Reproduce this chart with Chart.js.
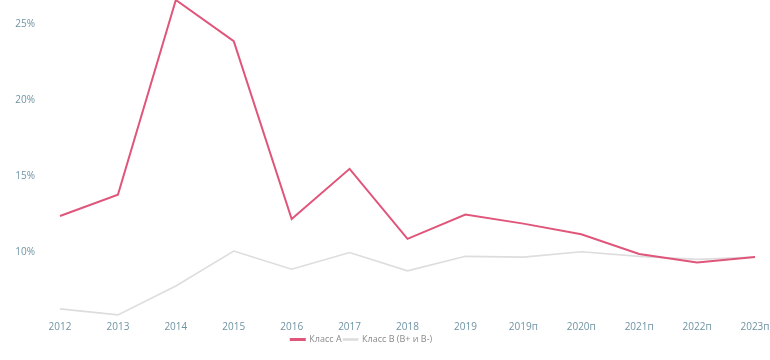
<!DOCTYPE html>
<html lang="ru">
<head>
    <meta charset="UTF-8">
    <title>Класс А / Класс В</title>
    <script src="https://cdn.jsdelivr.net/npm/chart.js"></script>
    <style>
        body {
            margin: 0;
            background: #ffffff;
        }

        #wrap {
            position: relative;
            width: 770px;
            height: 360px;
        }
    </style>
</head>
<body>
    <div id="wrap">
        <canvas id="chart"></canvas>
    </div>

    <script>
        // years along the x axis
        const years = ['2012', '2013', '2014', '2015', '2016', '2017', '2018', '2019',
            '2019п', '2020п', '2021п', '2022п', '2023п'];

        // vacancy, %
        const classA = [12.4, 13.8, 26.6, 23.9, 12.2, 15.5, 10.9, 12.5, 11.9, 11.2, 9.9, 9.35, 9.7];
        const classB = [6.3, 5.9, 7.8, 10.1, 8.9, 10.0, 8.8, 9.75, 9.7, 10.05, 9.75, 9.55, 9.7];

        const yTicks = [10, 15, 20, 25];

        const tickColor = '#6f93a3';
        const tickFont = { family: 'Open Sans', size: 10 };

        // legend sits a little left of the canvas centre in the original
        const legendShift = {
            id: 'legendShift',
            afterLayout(chart) {
                chart.legend.left -= 16;
                chart.legend.right -= 16;
            }
        };

        const ctx = document.getElementById('chart').getContext('2d');

        new Chart(ctx, {
            type: 'line',
            data: {
                labels: years,
                datasets: [{
                    label: 'Класс А',
                    data: classA,
                    borderColor: '#e0557a',
                    backgroundColor: '#e0557a',
                    borderWidth: 2,
                    pointRadius: 0,
                    tension: 0,
                    order: 1
                }, {
                    label: 'Класс В (В+ и В-)',
                    data: classB,
                    borderColor: '#dddddd',
                    backgroundColor: '#dddddd',
                    borderWidth: 1.6,
                    pointRadius: 0,
                    tension: 0,
                    order: 2
                }]
            },
            options: {
                responsive: true,
                maintainAspectRatio: false,
                animation: false,
                clip: false,
                layout: {
                    autoPadding: false,
                    padding: { top: 0, right: 15, bottom: 6, left: 0 }
                },
                scales: {
                    x: {
                        offset: false,
                        grid: { display: false, drawTicks: false },
                        border: { display: false },
                        ticks: {
                            color: tickColor,
                            font: tickFont,
                            autoSkip: false,
                            maxRotation: 0,
                            padding: 0
                        }
                    },
                    y: {
                        min: 5.5,
                        max: 26.6,
                        grid: { display: false, drawTicks: false },
                        border: { display: false },
                        afterBuildTicks: function (axis) {
                            axis.ticks = yTicks.map(v => ({ value: v }));
                        },
                        ticks: {
                            color: tickColor,
                            font: tickFont,
                            padding: 25,
                            callback: v => v + '%'
                        },
                        afterFit: function (axis) {
                            axis.width = 60;
                            // tick padding would otherwise push the plot down
                            axis.paddingTop = 0;
                            axis.paddingBottom = 0;
                        }
                    }
                },
                plugins: {
                    tooltip: { enabled: false },
                    legend: {
                        position: 'bottom',
                        labels: {
                            color: '#8a8a8a',
                            font: { family: 'Open Sans', size: 9 },
                            boxWidth: 14,
                            boxHeight: 1,
                            padding: 2
                        }
                    }
                }
            },
            plugins: [legendShift]
        });
    </script>
</body>
</html>
